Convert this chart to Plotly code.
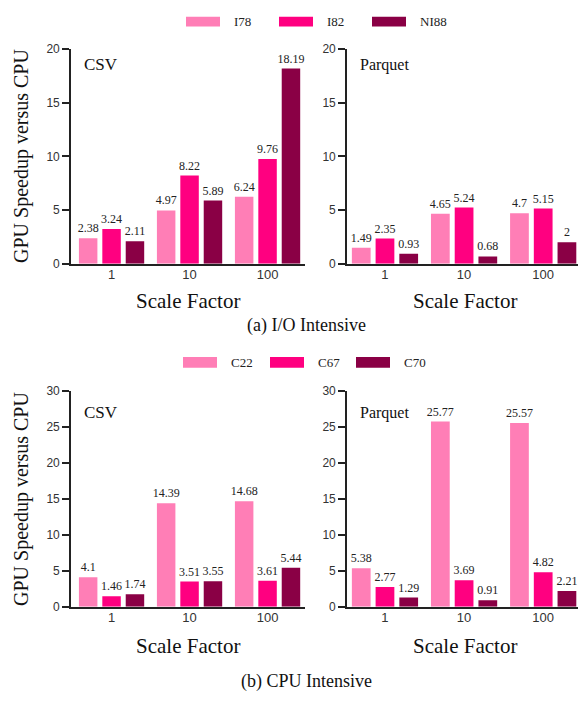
import plotly.graph_objects as go

# ---------------- data ----------------
categories = ["1", "10", "100"]

io_series = ["I78", "I82", "NI88"]
io_csv = [[2.38, 4.97, 6.24], [3.24, 8.22, 9.76], [2.11, 5.89, 18.19]]
io_parquet = [[1.49, 4.65, 4.7], [2.35, 5.24, 5.15], [0.93, 0.68, 2.0]]

cpu_series = ["C22", "C67", "C70"]
cpu_csv = [[4.1, 14.39, 14.68], [1.46, 3.51, 3.61], [1.74, 3.55, 5.44]]
cpu_parquet = [[5.38, 25.77, 25.57], [2.77, 3.69, 4.82], [1.29, 0.91, 2.21]]

colors = ["#FF7EB6", "#FF0080", "#8A0045"]

W, H = 578, 702


def px(x):
    return x / W


def py(y):
    return 1 - y / H


SERIF = "Liberation Serif"
SANS = "Liberation Sans"

fig = go.Figure()

panels = [
    (io_csv, io_series, "x", "y"),
    (io_parquet, io_series, "x2", "y2"),
    (cpu_csv, cpu_series, "x3", "y3"),
    (cpu_parquet, cpu_series, "x4", "y4"),
]

for data, names, xa, ya in panels:
    for i, (vals, name) in enumerate(zip(data, names)):
        fig.add_trace(go.Bar(
            x=categories, y=vals, name=name,
            marker=dict(color=colors[i], line=dict(width=0)),
            text=["%g" % v for v in vals],
            textposition="outside", constraintext="none", cliponaxis=False,
            textfont=dict(family=SERIF, size=12, color="#222"),
            xaxis=xa, yaxis=ya, showlegend=False,
        ))

axis_common = dict(showline=True, linecolor="#222", linewidth=1.6,
                   showgrid=False, zeroline=False,
                   tickfont=dict(family=SANS, size=13, color="#333"))

xdom_left = [px(71), px(305)]
xdom_right = [px(347), px(578)]
ydom_top = [py(262), py(43)]
ydom_bot = [py(612), py(392)]

layout = dict(
    width=W, height=H, autosize=False,
    margin=dict(l=0, r=0, t=0, b=0),
    paper_bgcolor="white", plot_bgcolor="white",
    barmode="group", bargap=0.1, bargroupgap=0.21,
    showlegend=False,
)

xspec = {
    "xaxis": (xdom_left, "y", [-0.52, 2.48]),
    "xaxis2": (xdom_right, "y2", [-0.48, 2.44]),
    "xaxis3": (xdom_left, "y3", [-0.52, 2.48]),
    "xaxis4": (xdom_right, "y4", [-0.48, 2.44]),
}
for k, (dom, anc, rng) in xspec.items():
    layout[k] = dict(axis_common, domain=dom, anchor=anc, range=rng,
                     type="category", ticks="", ticklen=0, ticklabelstandoff=-2)

yspec = {
    "yaxis": (ydom_top, "x", [0, 20]),
    "yaxis2": (ydom_top, "x2", [0, 20]),
    "yaxis3": (ydom_bot, "x3", [0, 30]),
    "yaxis4": (ydom_bot, "x4", [0, 30]),
}
for k, (dom, anc, rng) in yspec.items():
    layout[k] = dict(axis_common, domain=dom, anchor=anc, range=rng,
                     dtick=5, ticks="outside", ticklen=7, tickwidth=1.6,
                     tickcolor="#222", tickfont=dict(family=SANS, size=12, color="#333"))

fig.update_layout(**layout)

ann = []
shapes = []


def text(x, y, s, size, xanchor="center", angle=0):
    ann.append(dict(x=px(x), y=py(y), xref="paper", yref="paper", text=s,
                    showarrow=False, xanchor=xanchor, yanchor="middle",
                    textangle=angle, font=dict(family=SERIF, size=size, color="#111")))


# panel labels
text(82, 59, "CSV", 17, "left")
text(358, 59, "Parquet", 16, "left")
text(82, 414, "CSV", 17, "left")
text(358, 414, "Parquet", 16, "left")

# axis titles
text(22, 152, "GPU Speedup versus CPU", 20, angle=-90)
text(22, 502, "GPU Speedup versus CPU", 20, angle=-90)
text(188, 300, "Scale Factor", 21)
text(465, 300, "Scale Factor", 21)
text(188, 652, "Scale Factor", 21)
text(465, 652, "Scale Factor", 21)

# captions
text(306, 325, "(a) I/O Intensive", 18)
text(306, 688, "(b) CPU Intensive", 18)


# legends
def legend(names, x0s, ytop, ybot):
    for i, (n, x0) in enumerate(zip(names, x0s)):
        shapes.append(dict(type="rect", xref="paper", yref="paper",
                           x0=px(x0), x1=px(x0 + 34), y0=py(ybot), y1=py(ytop),
                           fillcolor=colors[i], line=dict(width=0)))
        ann.append(dict(x=px(x0 + 46), y=py((ytop + ybot) / 2), xref="paper", yref="paper",
                        text=n, showarrow=False, xanchor="left", yanchor="middle",
                        font=dict(family=SERIF, size=13, color="#222")))


legend(io_series, [186, 279, 372], 10, 20)
legend(cpu_series, [183, 270, 356], 357, 368)

fig.update_layout(annotations=ann, shapes=shapes)

fig.write_html("out.html", config={"displayModeBar": False},
               post_script="document.body.style.margin='0';")
